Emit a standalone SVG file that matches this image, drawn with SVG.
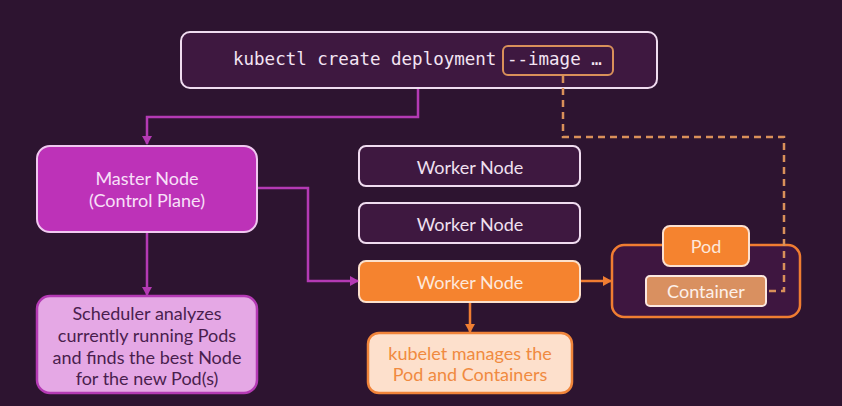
<svg xmlns="http://www.w3.org/2000/svg" width="842" height="406" viewBox="0 0 842 406">
<style>
.t{font-family:Lato,"Noto Sans",sans-serif;font-size:18px;text-anchor:middle;dominant-baseline:central}
.mono{font-family:"DejaVu Sans Mono","Liberation Mono",monospace;font-size:17.5px;fill:#f3e4f3}
.wn{fill:#3e1840;stroke:#f0dcf0;stroke-width:2}
.pl{fill:none;stroke:#b43ab4;stroke-width:2.5}
.ol{fill:none;stroke:#f07d32;stroke-width:2.5}
</style>
<defs>
<marker id="ap" markerWidth="10" markerHeight="10" refX="8" refY="5" orient="auto" markerUnits="userSpaceOnUse"><path d="M0,0 L9,5 L0,10 z" fill="#b43ab4"/></marker>
<marker id="ao" markerWidth="10" markerHeight="10" refX="8" refY="5" orient="auto" markerUnits="userSpaceOnUse"><path d="M0,0 L9,5 L0,10 z" fill="#f07d32"/></marker>
</defs>
<rect width="842" height="406" fill="#2d1430"/>
<g id="command">
<rect x="181" y="32" width="476" height="56" rx="9" fill="#3e1840" stroke="#f0dcf0" stroke-width="2"/>
<text class="mono" x="233" y="65">kubectl create deployment --image …</text>
<rect x="503" y="46" width="110" height="29" rx="5" fill="none" stroke="#d9905a" stroke-width="2"/>
</g>
<g id="master">
<rect x="37" y="146" width="220" height="86" rx="13" fill="#bd32b8" stroke="#f0c8f0" stroke-width="2"/>
<text class="t" x="147" y="178" fill="#f8e0f8">Master Node</text>
<text class="t" x="147" y="200" fill="#f8e0f8">(Control Plane)</text>
</g>
<g id="scheduler">
<rect x="37" y="296" width="220" height="97" rx="13" fill="#e5a8e5" stroke="#b43ab4" stroke-width="2.5"/>
<text class="t" x="147" y="313" fill="#4a1e4e">Scheduler analyzes</text>
<text class="t" x="147" y="335" fill="#4a1e4e">currently running Pods</text>
<text class="t" x="147" y="357" fill="#4a1e4e">and finds the best Node</text>
<text class="t" x="147" y="378" fill="#4a1e4e">for the new Pod(s)</text>
</g>
<g id="worker1">
<rect class="wn" x="359" y="146" width="221" height="40" rx="7"/>
<text class="t" x="470" y="167" fill="#f0e0f0">Worker Node</text>
</g>
<g id="worker2">
<rect class="wn" x="359" y="203" width="221" height="40" rx="7"/>
<text class="t" x="470" y="224" fill="#f0e0f0">Worker Node</text>
</g>
<g id="worker3">
<rect x="359" y="261" width="221" height="41" rx="7" fill="#f5832f" stroke="#fbe0cc" stroke-width="2"/>
<text class="t" x="470" y="282" fill="#fde8dc">Worker Node</text>
</g>
<g id="kubelet">
<rect x="368" y="333" width="204" height="60" rx="11" fill="#fde0cc" stroke="#f0843a" stroke-width="2.5"/>
<text class="t" x="470" y="353" fill="#f08a40">kubelet manages the</text>
<text class="t" x="470" y="374" fill="#f08a40">Pod and Containers</text>
</g>
<g id="podgroup">
<rect x="612" y="245" width="188" height="72" rx="12" fill="#3e1640" stroke="#f07d32" stroke-width="2.5"/>
</g>
<g id="pod">
<rect x="663" y="226" width="86" height="40" rx="7" fill="#f5832f" stroke="#fbe0d0" stroke-width="2"/>
<text class="t" x="706" y="246" fill="#fde8dc">Pod</text>
</g>
<g id="container">
<rect x="646" y="276" width="120" height="30" rx="4" fill="#d99060" stroke="#fbe8e0" stroke-width="2"/>
<text class="t" x="706" y="291" fill="#fdf0ea">Container</text>
</g>
<g id="connectors">
<path class="pl" d="M418,89 V117 H147 V144" marker-end="url(#ap)"/>
<path class="pl" d="M147,233 V295" marker-end="url(#ap)"/>
<path class="pl" d="M258,188 H308 V281 H358" marker-end="url(#ap)"/>
<path class="ol" d="M470,303 V332" marker-end="url(#ao)"/>
<path class="ol" d="M581,281 H611" marker-end="url(#ao)"/>
<path d="M563,76 V137 H784 V291 H767" fill="none" stroke="#d9905a" stroke-width="2.5" stroke-dasharray="7,5"/>
</g>
</svg>
